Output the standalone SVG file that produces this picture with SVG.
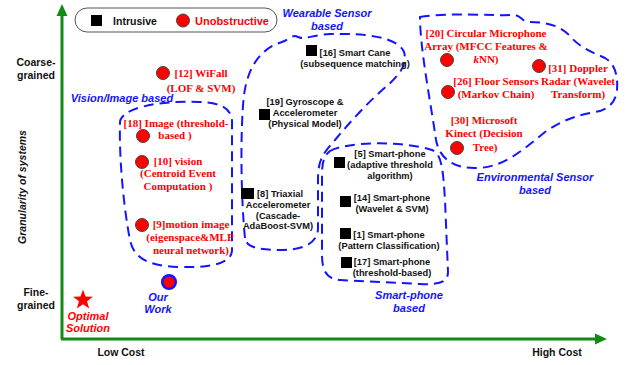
<svg xmlns="http://www.w3.org/2000/svg" width="632" height="365" viewBox="0 0 632 365">
<style>
.ax{font-family:"Liberation Sans",Arial,sans-serif;font-weight:bold;font-size:10.5px;fill:#111;text-anchor:middle}
.bk{font-family:"Liberation Sans",Arial,sans-serif;font-weight:bold;font-size:9.3px;fill:#111;text-anchor:middle}
.rd{font-family:"Liberation Serif","Times New Roman",serif;font-weight:bold;font-size:11px;fill:#ff0000;text-anchor:middle}
.bl{font-family:"Liberation Sans",Arial,sans-serif;font-weight:bold;font-style:italic;font-size:11px;fill:#1414ff;text-anchor:middle}
.ri{font-family:"Liberation Sans",Arial,sans-serif;font-weight:bold;font-style:italic;font-size:11px;fill:#ff0000;text-anchor:middle}
.blob{fill:none;stroke:#1414ff;stroke-width:2;stroke-dasharray:10 6}
.uc{fill:#ff0000;stroke:#444;stroke-width:1}
.sq{fill:#000}
.axis{stroke:#138a13;stroke-width:3;fill:none}
</style>
<rect width="632" height="365" fill="#fff"/>

<g id="axes">
<path class="axis" d="M62,339 L62,14 M61,339 L596,339"/>
<polygon points="62,4 56.5,16 67.5,16" fill="#138a13"/>
<polygon points="607,339 595,333.5 595,344.5" fill="#138a13"/>
<text class="ax" x="36" y="66">Coarse-</text>
<text class="ax" x="36" y="79">grained</text>
<text class="ax" x="36" y="296">Fine-</text>
<text class="ax" x="36" y="309">grained</text>
<text class="ax" x="121" y="356">Low Cost</text>
<text class="ax" x="557" y="356">High Cost</text>
<text class="ax" font-style="italic" transform="translate(26,187) rotate(-90)">Granularity of systems</text>
</g>

<g id="legend">
<rect x="75" y="8" width="202" height="24" rx="12" fill="#fff" stroke="#555" stroke-width="1"/>
<rect class="sq" x="91" y="15" width="11" height="11"/>
<text class="ax" x="135" y="25" font-size="11px">Intrusive</text>
<circle class="uc" cx="183" cy="20.5" r="6.5"/>
<text x="232" y="25" font-family="Liberation Sans,Arial,sans-serif" font-weight="bold" font-size="11px" fill="#ff0000" text-anchor="middle">Unobstructive</text>
</g>

<g id="connectors">
<path id="vision-blob" class="blob" d="M120,124 C118,108 160,100 200,102 C224,103 233,110 232,125 L232,250 C232,262 215,268 180,267 C147,266 134,258 130,240 C124,210 119,160 120,124 Z"/>
<path id="wearable-blob" class="blob" d="M245,238 C241,200 240,130 244,95 C248,65 262,48 282,42 C290,39 292,34 298,37 C305,40 312,35 330,34 C370,33 398,38 404,52 C408,65 398,76 388,85 C370,100 350,122 335,140 C322,155 318,160 318,180 L318,228 C318,245 300,250 280,250 C258,250 246,247 245,238 Z"/>
<path id="phone-blob" class="blob" d="M330,151 C345,142 400,140 432,150 C442,154 443,170 445,200 L448,272 C448,282 440,285 420,284 L340,280 C326,279 322,270 322,255 L322,175 C322,162 324,156 330,151 Z"/>
<path id="env-blob" class="blob" d="M420,17 C450,12 490,16 513,15 C522,15 521,22 530,22 C545,22 560,25 570,36 C580,48 592,52 605,58 C615,64 618,75 617,90 C616,102 608,110 595,112 C578,115 562,120 545,132 C525,148 505,167 478,168 C455,169 440,160 436,140 C432,110 420,50 420,17 Z"/>
</g>

<g id="labels">
<text class="bl" x="122" y="102">Vision/Image based</text>
<text class="bl" x="327" y="17">Wearable Sensor</text>
<text class="bl" x="327" y="30">based</text>
<text class="bl" x="409" y="299">Smart-phone</text>
<text class="bl" x="409" y="312">based</text>
<text class="bl" x="535" y="181">Environmental Sensor</text>
<text class="bl" x="535" y="194">based</text>
</g>

<g id="n12"><circle class="uc" cx="163" cy="73" r="6.5"/><text class="rd" x="201" y="77">[12] WiFall</text><text class="rd" x="201" y="92">(LOF &amp; SVM)</text></g>
<g id="n18"><circle class="uc" cx="143" cy="136" r="6.5"/><text class="rd" x="176" y="127">[18] Image (threshold-</text><text class="rd" x="175" y="139">based )</text></g>
<g id="n10"><circle class="uc" cx="142" cy="162" r="6.5"/><text class="rd" x="178" y="165">[10] vision</text><text class="rd" x="178" y="177">(Centroid Event</text><text class="rd" x="178" y="190">Computation )</text></g>
<g id="n9"><circle class="uc" cx="142" cy="225" r="6.5"/><text class="rd" x="191" y="228">[9]motion image</text><text class="rd" x="190" y="241">(eigenspace&amp;MLP</text><text class="rd" x="191" y="254">neural network)</text></g>

<g id="n16"><rect class="sq" x="306" y="45" width="11" height="11"/><text class="bk" x="355" y="56">[16] Smart Cane</text><text class="bk" x="355" y="67">(subsequence matching)</text></g>
<g id="n19"><rect class="sq" x="259" y="109" width="11" height="11"/><text class="bk" x="305" y="105">[19] Gyroscope &amp;</text><text class="bk" x="305" y="116">Accelerometer</text><text class="bk" x="305" y="127">(Physical Model)</text></g>
<g id="n8"><rect class="sq" x="241" y="188" width="13" height="11"/><text class="bk" x="280" y="197">[8] Triaxial</text><text class="bk" x="278" y="208">Accelerometer</text><text class="bk" x="278" y="219">(Cascade-</text><text class="bk" x="278" y="229">AdaBoost-SVM)</text></g>

<g id="n5"><rect class="sq" x="334" y="157" width="11" height="11"/><text class="bk" x="390" y="157">[5] Smart-phone</text><text class="bk" x="390" y="168">(adaptive threshold</text><text class="bk" x="390" y="179">algorithm)</text></g>
<g id="n14"><rect class="sq" x="340" y="196" width="11" height="11"/><text class="bk" x="392" y="201">[14] Smart-phone</text><text class="bk" x="392" y="212">(Wavelet &amp; SVM)</text></g>
<g id="n1"><rect class="sq" x="340" y="228" width="11" height="11"/><text class="bk" x="389" y="238">[1] Smart-phone</text><text class="bk" x="389" y="249">(Pattern Classification)</text></g>
<g id="n17"><rect class="sq" x="341" y="257" width="11" height="11"/><text class="bk" x="392" y="265">[17] Smart-phone</text><text class="bk" x="392" y="276">(threshold-based)</text></g>

<g id="n20"><circle class="uc" cx="447" cy="60" r="6.5"/><text class="rd" x="486" y="37">[20] Circular Microphone</text><text class="rd" x="486" y="50">Array (MFCC Features &amp;</text><text class="rd" x="486" y="63"><tspan font-style="italic">k</tspan>NN)</text></g>
<g id="n31"><circle class="uc" cx="539" cy="66" r="6.5"/><text class="rd" x="578" y="72">[31] Doppler</text><text class="rd" x="578" y="85">Radar (Wavelet</text><text class="rd" x="578" y="98">Transform)</text></g>
<g id="n26"><circle class="uc" cx="448" cy="92" r="6.5"/><text class="rd" x="496" y="85">[26] Floor Sensors</text><text class="rd" x="496" y="98">(Markov Chain)</text></g>
<g id="n30"><circle class="uc" cx="457" cy="148" r="6.5"/><text class="rd" x="484" y="124">[30] Microsoft</text><text class="rd" x="484" y="137">Kinect (Decision</text><text class="rd" x="485" y="151">Tree)</text></g>

<g id="our-work"><circle cx="169" cy="282" r="6.8" fill="#ff0000" stroke="#1414ff" stroke-width="2.5"/><text class="bl" x="158" y="301">Our</text><text class="bl" x="158" y="313">Work</text></g>
<g id="optimal"><polygon fill="#ff0000" points="83,289.5 85.5,296.6 93,296.8 87,301.3 89.2,308.5 83,304.2 76.8,308.5 79,301.3 73,296.8 80.5,296.6"/><text class="ri" x="88" y="320">Optimal</text><text class="ri" x="88" y="332">Solution</text></g>
</svg>
